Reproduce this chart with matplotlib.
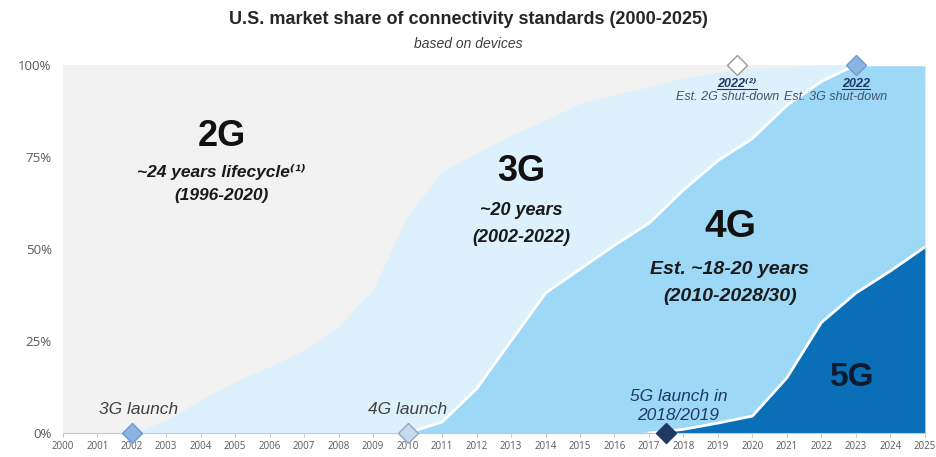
import numpy as np
import matplotlib
matplotlib.use("Agg")
import matplotlib.pyplot as plt
from matplotlib.lines import Line2D

plt.rcParams['font.family'] = ['Liberation Sans', 'DejaVu Sans']

# Cumulative share of devices (%), stacked from the bottom: 5G, 4G, 3G, 2G on top
years = list(range(2000, 2026))
top_3g = [0, 0, 0, 3.5, 9, 14, 18, 22.5, 29, 39, 59, 71, 76, 81, 85, 89.5,
          92, 94, 96.5, 98, 99, 99.5, 100, 100, 100, 100]
top_4g = [0, 0, 0, 0, 0, 0, 0, 0, 0, 0, 0, 3, 12, 25, 38, 44.5,
          51, 57, 66, 74, 80, 89, 95.5, 100, 100, 100]
top_5g = [0, 0, 0, 0, 0, 0, 0, 0, 0, 0, 0, 0, 0, 0, 0, 0,
          0, 0, 1, 2.7, 4.6, 15, 30, 38, 44, 50.5]

# milestone markers: (year, share, face colour, edge colour)
launches = [(2002, 0, '#8DB3E2', '#6C9AD2'),
            (2010, 0, '#C6D9F0', '#8EA9C8'),
            (2017.5, 0, '#1F3864', '#1F3864')]
shutdowns = [(2019.55, 100, 'white', '#9A9A9A'),
             (2023, 100, '#8DB3E2', '#6C9AD2')]

fig = plt.figure(figsize=(9.37, 4.57), dpi=100)
ax = fig.add_axes([0.067, 0.0525, 0.92, 0.8055])
ax.set_xlim(2000, 2025)
ax.set_ylim(0, 100)
ax.set_facecolor('#F2F2F2')

y = np.array(years)
ax.fill_between(y, 0, top_3g, color='#DDF1FC', lw=0)
ax.fill_between(y, 0, top_4g, color='#9ED8F7', lw=0)
ax.fill_between(y, 0, top_5g, color='#0B6FB8', lw=0)

t4 = np.array(top_4g, dtype=float)
t4[y < 2010] = np.nan
t5 = np.array(top_5g, dtype=float)
t5[y < 2017] = np.nan
ax.plot(y, t4, color='white', lw=2)
ax.plot(y, t5, color='white', lw=2)

for xx, yy, fc, ec in launches + shutdowns:
    ax.plot(xx, yy, marker='D', ms=10, mfc=fc, mec=ec, mew=1, clip_on=False, zorder=5)

for s in ['top', 'right', 'left']:
    ax.spines[s].set_visible(False)
ax.spines['bottom'].set_color('#C8C8C8')
ax.set_xticks(years)
ax.set_xticklabels([str(v) for v in years], fontsize=7, color='#595959', family='Open Sans')
ax.set_yticks([0, 25, 50, 75, 100])
ax.set_yticklabels(['0%', '25%', '50%', '75%', '100%'], fontsize=9.5, color='#595959',
                   family='Open Sans')
ax.tick_params(axis='x', length=3, color='#C8C8C8', pad=3)
ax.tick_params(axis='y', length=0, pad=8)

# titles
fig.text(0.5, 0.958, 'U.S. market share of connectivity standards (2000-2025)',
         ha='center', va='center', fontsize=13, weight='bold', color='#262626')
fig.text(0.5, 0.903, 'based on devices', ha='center', va='center', fontsize=10,
         style='italic', color='#404040')

# generation labels
big = dict(ha='center', va='center', weight='bold', color='#111111')
sub = dict(ha='center', va='center', weight='bold', style='italic', color='#1A1A1A')
ax.text(2004.6, 80.5, '2G', fontsize=26, **big)
ax.text(2004.6, 71, '~24 years lifecycle⁽¹⁾', fontsize=12.5, **sub)
ax.text(2004.6, 64.5, '(1996-2020)', fontsize=12.5, **sub)
ax.text(2013.3, 71, '3G', fontsize=26, **big)
ax.text(2013.3, 60.5, '~20 years', fontsize=13, **sub)
ax.text(2013.3, 53, '(2002-2022)', fontsize=13, **sub)
ax.text(2019.35, 56, '4G', fontsize=28, **big)
ax.text(2019.35, 44.5, 'Est. ~18-20 years', fontsize=14, **sub)
ax.text(2019.35, 37, '(2010-2028/30)', fontsize=14, **sub)
ax.text(2022.9, 15, '5G', fontsize=24, ha='center', va='center', weight='bold',
        color='#0D1B2E')

# launch labels
lab = dict(ha='center', va='center', style='italic', fontsize=12.5)
ax.text(2002.2, 6.3, '3G launch', color='#404040', **lab)
ax.text(2010, 6.3, '4G launch', color='#404040', **lab)
ax.text(2017.85, 10, '5G launch in', color='#1F3864', **lab)
ax.text(2017.85, 4.8, '2018/2019', color='#1F3864', **lab)

# shut-down labels
yr_labels = [ax.text(2019.55, 94.8, '2022⁽²⁾', ha='center', va='center', fontsize=9,
                     weight='bold', style='italic', color='#1F3864'),
             ax.text(2023, 94.8, '2022', ha='center', va='center', fontsize=9,
                     weight='bold', style='italic', color='#1F3864')]
ax.text(2019.27, 91.2, 'Est. 2G shut-down', ha='center', va='center', fontsize=9,
        style='italic', color='#44546A')
ax.text(2022.4, 91.2, 'Est. 3G shut-down', ha='center', va='center', fontsize=9,
        style='italic', color='#44546A')

# underline the shut-down years
fig.canvas.draw()
inv = fig.transFigure.inverted()
for t in yr_labels:
    bb = t.get_window_extent().transformed(inv)
    fig.add_artist(Line2D([bb.x0, bb.x1], [bb.y0 + 0.003, bb.y0 + 0.003],
                          color='#1F3864', lw=0.8))

fig.savefig('out.png', dpi=100, facecolor='white')
